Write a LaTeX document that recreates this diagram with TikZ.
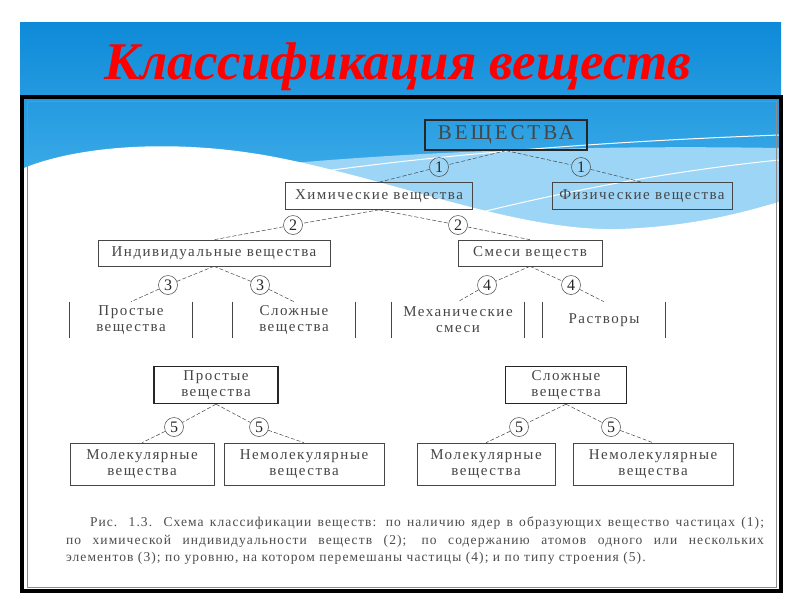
\documentclass[tikz,border=0pt]{standalone}
\usepackage{fontspec}
\setmainfont{Liberation Serif}
\newfontfamily\boxfont[LetterSpace=10]{Liberation Serif}
\newfontfamily\topfont[LetterSpace=14]{Liberation Serif}
\newfontfamily\capfont[LetterSpace=8]{Liberation Serif}
\usetikzlibrary{shapes}
\definecolor{skytop}{RGB}{14,138,216}
\definecolor{skylow}{RGB}{78,184,238}
\definecolor{skylight}{RGB}{156,213,246}
\definecolor{inkgray}{RGB}{70,70,70}
\begin{document}
\begin{tikzpicture}[x=1pt,y=-1pt,
  box/.style={draw=inkgray, line width=0.6pt, text=inkgray, inner sep=0pt, align=center,
    font=\boxfont\fontsize{15}{16}\selectfont},
  mainbox/.style={box, draw=black!85, line width=1.3pt},
  leaf/.style={box, draw=none},
  num/.style={circle, draw=inkgray, line width=0.5pt, inner sep=0pt, minimum size=19pt,
    font=\fontsize{16}{16}\selectfont, text=black!85},
  link/.style={draw=inkgray, line width=0.5pt, dash pattern=on 4pt off 2pt},
  side/.style={draw=inkgray, line width=0.6pt}]
\useasboundingbox (0,0) rectangle (800,600);
\fill[white] (0,0) rectangle (800,600);
\fill[top color=skytop, bottom color=skylow] (20,22) rectangle (781,240);
\fill[skylight] (200,172) .. controls (400,150) and (600,145) .. (779,148) -- (779,240) -- (200,240) -- cycle;
\draw[white, line width=1pt] (250,182) .. controls (450,150) and (650,140) .. (779,135);
\draw[white, line width=1pt] (420,228) .. controls (560,190) and (680,170) .. (779,160);
\fill[white] (24,168) .. controls (80,145) and (180,138) .. (280,158) .. controls (400,182) and (520,232) .. (620,229) .. controls (700,226) and (750,210) .. (779,202) -- (779,589) -- (24,589) -- cycle;
\draw[black!45, line width=0.8pt] (27,101) rectangle (776,587);
\draw[black, line width=4pt] (22,97) rectangle (781,591);
\node[font=\fontsize{53}{60}\selectfont\bfseries\itshape, text=red] (heading) at (398,67) {Классификация веществ};

\node[mainbox, minimum width=162pt, minimum height=30pt, font=\topfont\fontsize{21}{21}\selectfont] (subst) at (506,135) {ВЕЩЕСТВА};
\node[num] (c1a) at (439,167) {1};
\node[num] (c1b) at (581,167) {1};
\node[box, minimum width=187pt, minimum height=27pt] (chem) at (379,196) {Химические вещества};
\node[box, minimum width=180pt, minimum height=27pt] (phys) at (642,196) {Физические вещества};
\node[num] (c2a) at (293,225) {2};
\node[num] (c2b) at (458,225) {2};
\node[box, minimum width=232pt, minimum height=26pt] (indiv) at (214,253) {Индивидуальные вещества};
\node[box, minimum width=144pt, minimum height=26pt] (mix) at (530,253) {Смеси веществ};
\node[num] (c3a) at (168,285) {3};
\node[num] (c3b) at (260,285) {3};
\node[num] (c4a) at (487,285) {4};
\node[num] (c4b) at (571,285) {4};
\node[leaf, minimum width=122pt, minimum height=36pt] (simple) at (131,320) {Простые\\вещества};
\node[leaf, minimum width=122pt, minimum height=36pt] (complex) at (294,320) {Сложные\\вещества};
\node[leaf, minimum width=132pt, minimum height=36pt] (mech) at (458,320) {Механические\\смеси};
\node[leaf, minimum width=122pt, minimum height=36pt] (solut) at (604,320) {Растворы};

\draw[link] (subst.south) -- (c1a) -- (chem.north);
\draw[link] (subst.south) -- (c1b) -- (phys.north);
\draw[link] (chem.south) -- (c2a) -- (indiv.north);
\draw[link] (chem.south) -- (c2b) -- (mix.north);
\draw[link] (indiv.south) -- (c3a) -- (simple.north);
\draw[link] (indiv.south) -- (c3b) -- (complex.north);
\draw[link] (mix.south) -- (c4a) -- (mech.north);
\draw[link] (mix.south) -- (c4b) -- (solut.north);
\draw[side] (simple.north west) -- (simple.south west) (simple.north east) -- (simple.south east);
\draw[side] (complex.north west) -- (complex.south west) (complex.north east) -- (complex.south east);
\draw[side] (mech.north west) -- (mech.south west) (mech.north east) -- (mech.south east);
\draw[side] (solut.north west) -- (solut.south west) (solut.north east) -- (solut.south east);

\node[mainbox, minimum width=124pt, minimum height=37pt] (simple2) at (216,385) {Простые\\вещества};
\node[num] (c5a) at (174,427) {5};
\node[num] (c5b) at (259,427) {5};
\node[box, minimum width=144pt, minimum height=42pt] (mol1) at (142,464) {Молекулярные\\вещества};
\node[box, minimum width=160pt, minimum height=42pt] (nonmol1) at (304,464) {Немолекулярные\\вещества};
\node[mainbox, minimum width=121pt, minimum height=37pt] (complex2) at (566,385) {Сложные\\вещества};
\node[num] (c5c) at (519,427) {5};
\node[num] (c5d) at (611,427) {5};
\node[box, minimum width=138pt, minimum height=42pt] (mol2) at (486,464) {Молекулярные\\вещества};
\node[box, minimum width=160pt, minimum height=42pt] (nonmol2) at (653,464) {Немолекулярные\\вещества};

\draw[link] (simple2.south) -- (c5a) -- (mol1.north);
\draw[link] (simple2.south) -- (c5b) -- (nonmol1.north);
\draw[link] (complex2.south) -- (c5c) -- (mol2.north);
\draw[link] (complex2.south) -- (c5d) -- (nonmol2.north);

\node[text width=698pt, align=justify, text=black!70, inner sep=0pt,
  font=\capfont\fontsize{13.5}{17.5}\selectfont] (figcap) at (415,541)
  {\hspace*{24pt}Рис. 1.3. Схема классификации веществ: по наличию ядер в образующих вещество частицах (1);\linebreak по химической индивидуальности веществ (2); по содержанию атомов одного или нескольких\linebreak элементов (3); по уровню, на котором перемешаны частицы (4); и по типу строения (5).};
\end{tikzpicture}
\end{document}
